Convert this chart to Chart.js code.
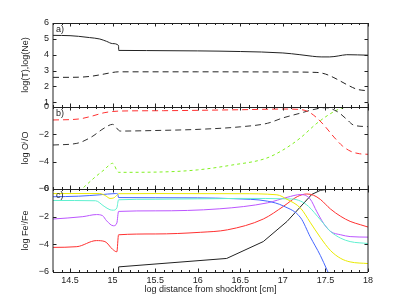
<!DOCTYPE html>
<html>
<head>
<meta charset="utf-8">
<script src="https://cdn.jsdelivr.net/npm/chart.js@4.4.0/dist/chart.umd.min.js"></script>
<style>
  html, body { margin: 0; padding: 0; background: #fff; }
  #wrap { position: relative; width: 407px; height: 306px; }
  #wrap canvas { position: absolute; left: 0; top: 0; }
</style>
</head>
<body>
<div id="wrap">
  <canvas id="panelA" width="407" height="306"></canvas>
  <canvas id="panelB" width="407" height="306"></canvas>
  <canvas id="panelC" width="407" height="306"></canvas>
</div>
<script>
// x ticks shared by all panels
const xTicks = [14.5, 15, 15.5, 16, 16.5, 17, 17.5, 18];
const xLabels = ["14.5", "15", "15.5", "16", "16.5", "17", "17.5", "18"];

// panel a) temperature and electron density
const tempX = [14.3, 14.5, 14.6, 14.73, 14.85, 14.93, 15.0, 15.07, 15.072, 15.4, 16.0, 16.5, 17.0, 17.2, 17.35, 17.45, 17.55, 17.65, 17.75, 18.0];
const tempY = [5.22, 5.2, 5.16, 5.08, 4.99, 4.84, 4.7, 4.58, 4.27, 4.26, 4.24, 4.2, 4.11, 4.0, 3.9, 3.86, 3.86, 3.92, 4.0, 3.97];
const neX = [14.3, 14.6, 14.75, 14.9, 15.0, 15.07, 16.0, 17.0, 17.4, 17.5, 17.6, 17.76, 17.87, 18.0];
const neY = [2.57, 2.58, 2.64, 2.78, 2.88, 2.92, 2.92, 2.91, 2.88, 2.78, 2.55, 2.09, 1.82, 1.72];
const ticksA = [1, 2, 3, 4, 5, 6];

// panel b) oxygen ions
const oRedX = [14.3, 14.6, 14.75, 14.9, 15.0, 15.07, 15.6, 16.5, 17.0, 17.2, 17.3, 17.4, 17.5, 17.6, 17.7, 17.8, 17.9, 18.0];
const oRedY = [-0.95, -0.88, -0.68, -0.42, -0.33, -0.3, -0.27, -0.2, -0.15, -0.18, -0.35, -0.8, -1.45, -2.2, -2.85, -3.25, -3.42, -3.46];
const oBlkX = [14.3, 14.58, 14.75, 14.9, 15.0, 15.09, 15.5, 16.03, 16.5, 16.82, 17.0, 17.2, 17.35, 17.5, 17.64, 17.75, 17.83, 18.0];
const oBlkY = [-2.78, -2.66, -2.2, -1.55, -1.27, -1.76, -1.72, -1.63, -1.45, -1.19, -0.8, -0.46, -0.2, -0.05, -0.34, -0.9, -1.32, -1.44];
const oGrnX = [14.3, 14.64, 14.8, 14.9, 15.0, 15.07, 15.6, 16.0, 16.4, 16.8, 17.0, 17.2, 17.4, 17.6, 17.72, 18.0];
const oGrnY = [-8.0, -6.0, -5.1, -4.6, -4.12, -4.78, -4.75, -4.6, -4.25, -3.76, -3.15, -2.29, -1.19, -0.34, -0.05, -0.02];
const ticksBC = [-6, -4, -2, 0];

// panel c) iron ions
const feYelX = [14.3, 14.85, 14.92, 14.97, 15.02, 15.05, 15.07, 15.5, 16.5, 16.93, 17.05, 17.21, 17.32, 17.44, 17.56, 17.68, 17.79, 18.0];
const feYelY = [-0.33, -0.33, -0.5, -0.68, -0.62, -0.45, -0.34, -0.33, -0.34, -0.42, -0.75, -1.4, -2.4, -3.5, -4.45, -5.02, -5.27, -5.39];
const feCyaX = [14.3, 14.8, 14.9, 14.97, 15.01, 15.05, 15.07, 15.5, 16.5, 17.1, 17.21, 17.3, 17.44, 17.56, 17.68, 17.79, 18.0];
const feCyaY = [-0.83, -0.85, -1.25, -1.5, -1.53, -1.36, -0.78, -0.74, -0.68, -0.72, -0.88, -1.25, -2.22, -3.07, -3.56, -3.8, -3.94];
const feBluX = [14.3, 14.6, 14.85, 15.03, 15.06, 15.07, 15.5, 16.0, 16.42, 16.82, 17.01, 17.21, 17.32, 17.44, 17.52, 17.56];
const feBluY = [-0.56, -0.52, -0.42, -0.33, -0.35, -0.62, -0.63, -0.64, -0.7, -0.88, -1.24, -2.09, -3.44, -4.8, -5.87, -6.4];
const feVioX = [14.3, 14.65, 14.81, 14.88, 14.93, 15.01, 15.05, 15.07, 15.5, 16.26, 16.82, 17.05, 17.21, 17.32, 17.4, 17.48, 17.56, 17.68, 17.79, 18.0];
const feVioY = [-2.17, -2.0, -1.85, -1.92, -2.3, -2.66, -2.46, -1.62, -1.58, -1.43, -1.0, -0.6, -0.4, -0.72, -1.65, -2.5, -3.07, -3.31, -3.44, -3.48];
const feRedX = [14.3, 14.58, 14.81, 14.91, 15.0, 15.05, 15.07, 15.5, 16.03, 16.35, 16.77, 17.01, 17.17, 17.28, 17.36, 17.44, 17.56, 17.68, 17.79, 17.91, 18.0];
const feRedY = [-4.22, -4.17, -3.73, -3.8, -4.36, -4.54, -3.31, -3.25, -3.13, -2.95, -2.17, -1.24, -0.55, -0.36, -0.45, -0.75, -1.45, -1.98, -2.34, -2.58, -2.75];
const feBlkX = [15.07, 15.071, 16.34, 16.77, 17.05, 17.34, 17.44, 17.52, 18.0];
const feBlkY = [-6.5, -5.63, -5.02, -3.8, -2.34, -0.39, -0.1, -0.03, -0.02];

const FONT = { family: "'Liberation Sans', Arial, Helvetica, sans-serif", size: 9 };
const TXT = "#222";

function pts(xs, ys) {
  return xs.map((v, i) => ({ x: v, y: ys[i] }));
}

function serie(xs, ys, color, dash, smooth) {
  return {
    data: pts(xs, ys),
    borderColor: color,
    borderWidth: 1,
    borderDash: dash || [],
    pointRadius: 0,
    fill: false,
    cubicInterpolationMode: smooth === false ? "default" : "monotone",
    tension: 0
  };
}

// box + inward ticks like the original figure
const framePlugin = {
  id: "frame",
  afterDraw(chart, args, opts) {
    const { ctx, chartArea: a, scales: { x, y } } = chart;
    ctx.save();
    ctx.strokeStyle = "#222";
    ctx.lineWidth = 1;
    ctx.beginPath();
    ctx.moveTo(a.left, a.top + 0.5);
    ctx.lineTo(a.right, a.top + 0.5);
    ctx.moveTo(a.left, a.bottom + 0.5);
    ctx.lineTo(a.right, a.bottom + 0.5);
    ctx.moveTo(a.left, a.top);
    ctx.lineTo(a.left, a.bottom);
    ctx.moveTo(a.right, a.top);
    ctx.lineTo(a.right, a.bottom);

    function xTick(v, len) {
      const px = Math.round(x.getPixelForValue(v)) + 0.5;
      ctx.moveTo(px, a.top);
      ctx.lineTo(px, a.top + len);
      ctx.moveTo(px, a.bottom);
      ctx.lineTo(px, a.bottom - len);
    }
    for (let i = 143; i <= 180; i++) {
      if (i % 5 !== 0) xTick(i / 10, 2);
    }
    xTicks.forEach(v => xTick(v, 3.5));
    y.ticks.forEach(t => {
      const py = Math.round(y.getPixelForValue(t.value)) + 0.5;
      ctx.moveTo(a.left, py);
      ctx.lineTo(a.left + 3.5, py);
      ctx.moveTo(a.right, py);
      ctx.lineTo(a.right - 3.5, py);
    });
    ctx.stroke();

    ctx.fillStyle = TXT;
    ctx.font = "9px " + FONT.family;
    ctx.textAlign = "left";
    ctx.textBaseline = "top";
    ctx.fillText(opts.label, a.left + 3, a.top + 2);
    ctx.restore();
  }
};

function makePanel(id, top, bottom, ymin, ymax, yTickVals, yTitle, label, datasets, showX) {
  const xScale = {
    type: "linear",
    min: 14.3,
    max: 18,
    display: showX,
    grid: { display: false, drawTicks: false },
    border: { display: false },
    afterBuildTicks: s => { s.ticks = xTicks.map(v => ({ value: v })); },
    ticks: {
      font: FONT, color: TXT, padding: 3, maxRotation: 0, autoSkip: false,
      callback: (v, i) => xLabels[i]
    },
    title: {
      display: true, text: "log distance from shockfront [cm]",
      font: FONT, color: TXT, padding: { top: 0, bottom: 11 }
    }
  };
  if (showX) xScale.afterFit = s => { s.height = 306 - bottom; };

  return new Chart(document.getElementById(id), {
    type: "line",
    data: { datasets: datasets },
    options: {
      responsive: false,
      animation: false,
      events: [],
      layout: { padding: { left: 0, right: 39, top: top, bottom: showX ? 0 : 306 - bottom } },
      plugins: {
        legend: { display: false },
        tooltip: { enabled: false },
        frame: { label: label }
      },
      scales: {
        x: xScale,
        y: {
          type: "linear",
          min: ymin,
          max: ymax,
          grid: { display: false, drawTicks: false },
          border: { display: false },
          afterBuildTicks: s => { s.ticks = yTickVals.map(v => ({ value: v })); },
          afterFit: s => { s.width = 53; },
          ticks: {
            font: FONT, color: TXT, padding: 4, autoSkip: false,
            callback: v => (v < 0 ? "\u2212" + Math.abs(v) : String(v))
          },
          title: {
            display: true, text: yTitle,
            font: FONT, color: TXT, padding: { top: 20, bottom: 0 }
          }
        }
      }
    },
    plugins: [framePlugin]
  });
}

makePanel("panelA", 23, 107, 0.7, 6, ticksA, "log(T),log(Ne)", "a)", [
  serie(tempX, tempY, "#222"),
  serie(neX, neY, "#222", [6, 4])
], false);

makePanel("panelB", 107, 189, -6, 0, ticksBC, "log O\u2071/O", "b)", [
  serie(oRedX, oRedY, "#ff3030", [6, 4]),
  serie(oBlkX, oBlkY, "#333", [6, 4]),
  serie(oGrnX, oGrnY, "#80f020", [3, 3])
], false);

makePanel("panelC", 189, 272, -6, 0, ticksBC, "log Fe\u2071/Fe", "c)", [
  serie(feYelX, feYelY, "#eaea00"),
  serie(feCyaX, feCyaY, "#60f0d0"),
  serie(feBluX, feBluY, "#4466ff"),
  serie(feVioX, feVioY, "#bb55ff"),
  serie(feRedX, feRedY, "#ff3030"),
  serie(feBlkX, feBlkY, "#222", [], false)
], true);
</script>
</body>
</html>
